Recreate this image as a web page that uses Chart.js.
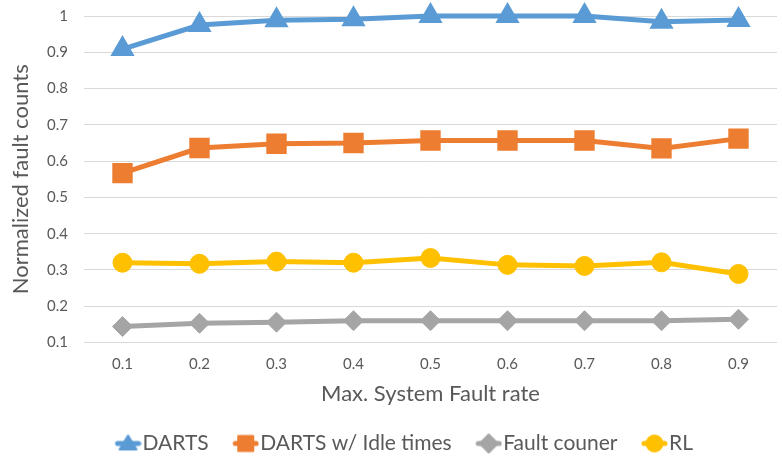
<!DOCTYPE html>
<html lang="en">
<head>
<meta charset="UTF-8">
<title>Normalized fault counts</title>
<script src="https://cdn.jsdelivr.net/npm/chart.js"></script>
<style>
  html, body { margin: 0; padding: 0; background: #fff; overflow: hidden; }
  #wrap { width: 792px; height: 464px; }
</style>
</head>
<body>
<div id="wrap"><canvas id="chart" width="792" height="464"></canvas></div>
<script>
// x categories (max. system fault rate)
const faultRates = ['0.1', '0.2', '0.3', '0.4', '0.5', '0.6', '0.7', '0.8', '0.9'];
// y tick values
const yTicks = [0.1, 0.2, 0.3, 0.4, 0.5, 0.6, 0.7, 0.8, 0.9, 1];

// series
const darts        = [0.909, 0.975, 0.988, 0.991, 1.000, 1.000, 1.000, 0.984, 0.989];
const dartsIdle    = [0.567, 0.636, 0.648, 0.650, 0.657, 0.657, 0.657, 0.635, 0.662];
const faultCounter = [0.144, 0.153, 0.156, 0.160, 0.160, 0.160, 0.160, 0.160, 0.164];
const rl           = [0.320, 0.317, 0.323, 0.320, 0.333, 0.314, 0.311, 0.321, 0.289];

const textColor = '#595959';
const fontFamily = 'Lato, "Open Sans", sans-serif';

function series(label, data, color, style, radius, bw) {
    return {
        label: label,
        data: data,
        borderColor: color,
        backgroundColor: color,
        borderWidth: 5,
        pointStyle: style,
        pointRadius: radius,
        pointBorderWidth: bw,
        pointBackgroundColor: color,
        pointBorderColor: color,
        tension: 0,
        fill: false,
        clip: false
    };
}

// Excel-like legend symbol: short line with the marker on it
function legendIcon(color, shape) {
    const c = document.createElement('canvas');
    c.width = 52;
    c.height = 22;
    const g = c.getContext('2d');
    g.strokeStyle = color;
    g.fillStyle = color;
    g.lineWidth = 5;
    g.lineCap = 'round';
    g.beginPath();
    g.moveTo(28, 11);
    g.lineTo(49, 11);
    g.stroke();
    const cx = 38.5, cy = 11;
    g.lineWidth = 2;
    g.lineJoin = 'round';
    g.beginPath();
    if (shape === 'triangle') {
        g.moveTo(cx, cy - 8); g.lineTo(cx + 8.5, cy + 6); g.lineTo(cx - 8.5, cy + 6); g.closePath();
    } else if (shape === 'rect') {
        g.rect(cx - 7.5, cy - 7.5, 15, 15);
    } else if (shape === 'rectRot') {
        g.moveTo(cx, cy - 9); g.lineTo(cx + 9, cy); g.lineTo(cx, cy + 9); g.lineTo(cx - 9, cy); g.closePath();
    } else {
        g.arc(cx, cy, 8, 0, Math.PI * 2);
    }
    g.fill();
    g.stroke();
    return c;
}

const datasets = [
    series('DARTS', darts, '#5B9BD5', 'triangle', 12, 2),
    series('DARTS w/ Idle times', dartsIdle, '#ED7D31', 'rect', 13, 2),
    series('Fault couner', faultCounter, '#A5A5A5', 'rectRot', 10, 1),
    series('RL', rl, '#FFC000', 'circle', 9.5, 1)
];
const icons = datasets.map(d => legendIcon(d.borderColor, d.pointStyle));

const ctx = document.getElementById('chart').getContext('2d');
new Chart(ctx, {
    type: 'line',
    data: {
        labels: faultRates,
        datasets: datasets
    },
    options: {
        responsive: false,
        animation: false,
        events: [],
        layout: { padding: { top: 16, right: 0, left: 0, bottom: 0 } },
        plugins: {
            tooltip: { enabled: false },
            legend: {
                position: 'bottom',
                labels: {
                    usePointStyle: true,
                    pointStyleWidth: 33,
                    boxHeight: 14,
                    padding: 8,
                    color: textColor,
                    font: { family: fontFamily, size: 21 },
                    generateLabels(chart) {
                        const items = Chart.defaults.plugins.legend.labels.generateLabels(chart);
                        items.forEach((it, i) => { it.pointStyle = icons[i]; });
                        return items;
                    }
                }
            }
        },
        scales: {
            x: {
                type: 'category',
                offset: true,
                afterFit: s => { s.height = 82.5; },
                grid: { display: false, drawTicks: false },
                border: { display: false },
                ticks: { color: textColor, font: { family: fontFamily, size: 15 }, padding: 13 },
                title: {
                    display: true,
                    text: 'Max. System Fault rate',
                    color: textColor,
                    font: { family: fontFamily, size: 22 },
                    padding: { top: 4, bottom: 18 }
                }
            },
            y: {
                min: 0.1,
                max: 1,
                afterBuildTicks: s => { s.ticks = yTicks.map(v => ({ value: v })); },
                afterFit: s => { s.width = 84; s.paddingTop = 0; s.paddingBottom = 0; },
                grid: { color: '#D9D9D9', lineWidth: 1, drawTicks: false },
                border: { display: false },
                ticks: {
                    color: textColor,
                    font: { family: fontFamily, size: 15 },
                    padding: 16,
                    callback: v => String(Number(v.toFixed(1)))
                },
                title: {
                    display: true,
                    text: 'Normalized fault counts',
                    color: textColor,
                    font: { family: fontFamily, size: 22 },
                    padding: { top: 8, bottom: 0 }
                }
            }
        }
    }
});
</script>
</body>
</html>
